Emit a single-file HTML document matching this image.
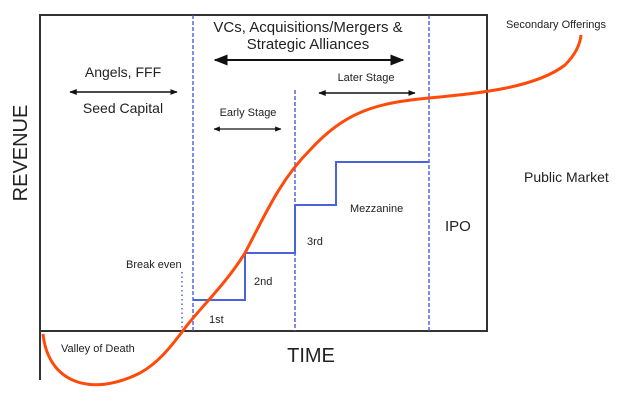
<!DOCTYPE html>
<html><head><meta charset="utf-8"><style>
html,body{margin:0;padding:0;background:#fff;}
svg{display:block;}
text{font-family:"Liberation Sans","DejaVu Sans",sans-serif;fill:#222;}
</style></head><body>
<svg width="626" height="400" viewBox="0 0 626 400" xmlns="http://www.w3.org/2000/svg">
<defs>
<marker id="a" viewBox="0 0 10 10" refX="9" refY="5" markerWidth="7" markerHeight="7" orient="auto-start-reverse"><path d="M0,1 L10,5 L0,9 z" fill="#111"/></marker>
<marker id="b" viewBox="0 0 10 10" refX="9" refY="5" markerWidth="5" markerHeight="5" orient="auto-start-reverse"><path d="M0,1 L10,5 L0,9 z" fill="#111"/></marker>
</defs>
<path d="M40,380 V15 H487 V331 H40" fill="none" stroke="#333" stroke-width="2"/>
<line x1="193" y1="15" x2="193" y2="331" stroke="#3a4fe0" stroke-width="1.3" stroke-dasharray="4,2"/>
<line x1="295" y1="90" x2="295" y2="331" stroke="#3a4fe0" stroke-width="1.3" stroke-dasharray="4,2"/>
<line x1="429" y1="15" x2="429" y2="331" stroke="#3a4fe0" stroke-width="1.3" stroke-dasharray="4,2"/>
<line x1="182" y1="272" x2="182" y2="331" stroke="#3a4fe0" stroke-width="1.3" stroke-dasharray="1.5,3"/>
<path d="M193,300 H245 V253 H295 V205 H336 V162 H429" fill="none" stroke="#4a62dc" stroke-width="2"/>
<line x1="70" y1="92" x2="177" y2="92" stroke="#111" stroke-width="1.5" marker-start="url(#b)" marker-end="url(#b)"/>
<line x1="215" y1="60" x2="403" y2="60" stroke="#111" stroke-width="2" marker-start="url(#a)" marker-end="url(#a)"/>
<line x1="214" y1="129" x2="281" y2="129" stroke="#111" stroke-width="1.3" marker-start="url(#b)" marker-end="url(#b)"/>
<line x1="319" y1="93" x2="415" y2="93" stroke="#111" stroke-width="1.5" marker-start="url(#b)" marker-end="url(#b)"/>
<path d="M43,334 C48,382 90,398 140,373 C158,363 170,348 185,328 C200,308 225,285 245,253 C265,215 280,180 310,150 C345,112 375,103 429,98 C480,93 535,88 565,65 C575,55 580,45 581,35" fill="none" stroke="#ff4a0a" stroke-width="3"/>
<text x="308" y="32" font-size="15" text-anchor="middle">VCs, Acquisitions/Mergers &amp;</text>
<text x="308" y="49" font-size="15" text-anchor="middle">Strategic Alliances</text>
<text x="123" y="77" font-size="14" text-anchor="middle">Angels, FFF</text>
<text x="123" y="113" font-size="14" text-anchor="middle">Seed Capital</text>
<text x="248" y="116" font-size="11" text-anchor="middle">Early Stage</text>
<text x="366" y="81" font-size="11" text-anchor="middle">Later Stage</text>
<text x="556" y="28" font-size="11" text-anchor="middle">Secondary Offerings</text>
<text x="524" y="182" font-size="14">Public Market</text>
<text x="445" y="231" font-size="15">IPO</text>
<text x="350" y="212" font-size="11">Mezzanine</text>
<text x="307" y="245" font-size="11">3rd</text>
<text x="254" y="285" font-size="11">2nd</text>
<text x="209" y="323" font-size="11">1st</text>
<text x="126" y="268" font-size="11">Break even</text>
<text x="61" y="352" font-size="11">Valley of Death</text>
<text x="311" y="362" font-size="20" text-anchor="middle">TIME</text>
<text transform="translate(27,153) rotate(-90)" font-size="20" text-anchor="middle">REVENUE</text>
</svg>
</body></html>
